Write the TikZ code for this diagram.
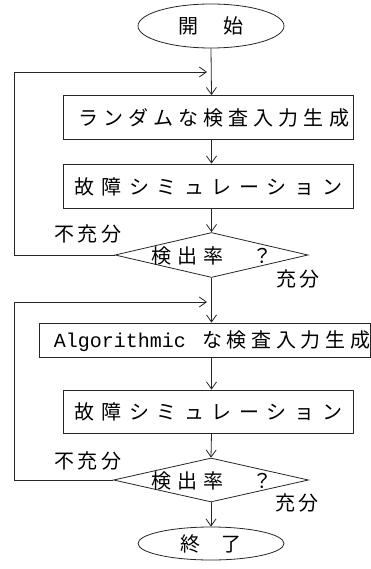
\documentclass[tikz,border=0pt]{standalone}
\usepackage{fontspec}
\newfontfamily\jp{Noto Sans CJK JP}
\newfontfamily\mono{Liberation Mono}
\usetikzlibrary{shapes.geometric,arrows.meta}
\begin{document}
\begin{tikzpicture}[x=1pt,y=-1pt,
  ln/.style={line width=0.8pt, draw=black!85},
  arr/.style={ln, -{Straight Barb[length=7pt,width=10pt,line width=0.8pt]}},
  stepbox/.style={ln, rectangle, inner sep=0pt, minimum width=290pt},
  term/.style={ln, ellipse, inner sep=0pt, minimum width=146pt, font=\jp\fontsize{20}{24}\selectfont},
  decide/.style={ln, diamond, inner sep=0pt},
  jt/.style={inner sep=0pt, font=\jp\fontsize{20}{24}\selectfont}
]
\useasboundingbox (0,0) rectangle (371,569);
\fill[white] (0,0) rectangle (371,569);

% terminals
\node[term, minimum height=44pt] (start) at (211,26) {開\hspace{25pt}始};
\node[term, minimum height=33pt] (stop) at (211,543.5) {終\hspace{21pt}了};

% boxes
\node[stepbox, minimum height=44pt] (b1) at (208,117.5) {};
\node[stepbox, minimum height=44pt] (b2) at (208,186) {};
\node[stepbox, minimum width=331pt, minimum height=34pt] (b3) at (204.5,340) {};
\node[stepbox, minimum height=43pt] (b4) at (208,411.5) {};

\node[jt] (t1) at (213.5,118) {\makebox[271pt][s]{ラ\hfil ン\hfil ダ\hfil ム\hfil な\hfil 検\hfil 査\hfil 入\hfil 力\hfil 生\hfil 成}};
\node[jt] (t2) at (208,186.5) {\makebox[268pt][s]{故\hfil 障\hfil シ\hfil ミ\hfil ュ\hfil レ\hfil ー\hfil シ\hfil ョ\hfil ン}};
\node[jt] (t3) at (212,341) {{\mono\fontsize{20}{24}\selectfont Algorithmic}\hspace{16pt}\makebox[168pt][s]{な\hfil 検\hfil 査\hfil 入\hfil 力\hfil 生\hfil 成}};
\node[jt] (t4) at (208,412) {\makebox[268pt][s]{故\hfil 障\hfil シ\hfil ミ\hfil ュ\hfil レ\hfil ー\hfil シ\hfil ョ\hfil ン}};

% decisions
\node[decide, minimum width=193pt, minimum height=45pt] (d1) at (211.5,255) {};
\node[decide, minimum width=195pt, minimum height=44pt] (d2) at (211,480) {};
\node[jt] (q1) at (211.5,256) {\makebox[121pt][l]{検\hspace{6pt}出\hspace{6pt}率\hfill ？}};
\node[jt] (q2) at (211.5,481) {\makebox[121pt][l]{検\hspace{6pt}出\hspace{6pt}率\hfill ？}};

% labels
\node[jt] (n1) at (87.5,234) {\makebox[67pt][s]{不\hfil 充\hfil 分}};
\node[jt] (y1) at (297.5,279) {\makebox[43pt][s]{充\hfil 分}};
\node[jt] (n2) at (87.5,461) {\makebox[67pt][s]{不\hfil 充\hfil 分}};
\node[jt] (y2) at (297,503) {\makebox[43pt][s]{充\hfil 分}};

% axis and loop coordinates
\coordinate (ax) at (211.5,0);
\coordinate (L1) at (14,72);
\coordinate (m1e) at (207,72);
\coordinate (L2) at (14,302);
\coordinate (m2e) at (207,302);

% main flow
\draw[arr] (start.south) -- (b1.north -| ax);
\draw[arr] (b1.south -| ax) -- (b2.north -| ax);
\draw[arr] (b2.south -| ax) -- (d1.north);
\draw[arr] (d1.south) -- (b3.north -| ax);
\draw[arr] (b3.south -| ax) -- (b4.north -| ax);
\draw[arr] (b4.south -| ax) -- (d2.north);
\draw[arr] (d2.south) -- (stop.north);

% loops
\draw[arr] (d1.west) -| (L1) -- (m1e);
\draw[arr] (d2.west) -| (L2) -- (m2e);
\end{tikzpicture}
\end{document}
